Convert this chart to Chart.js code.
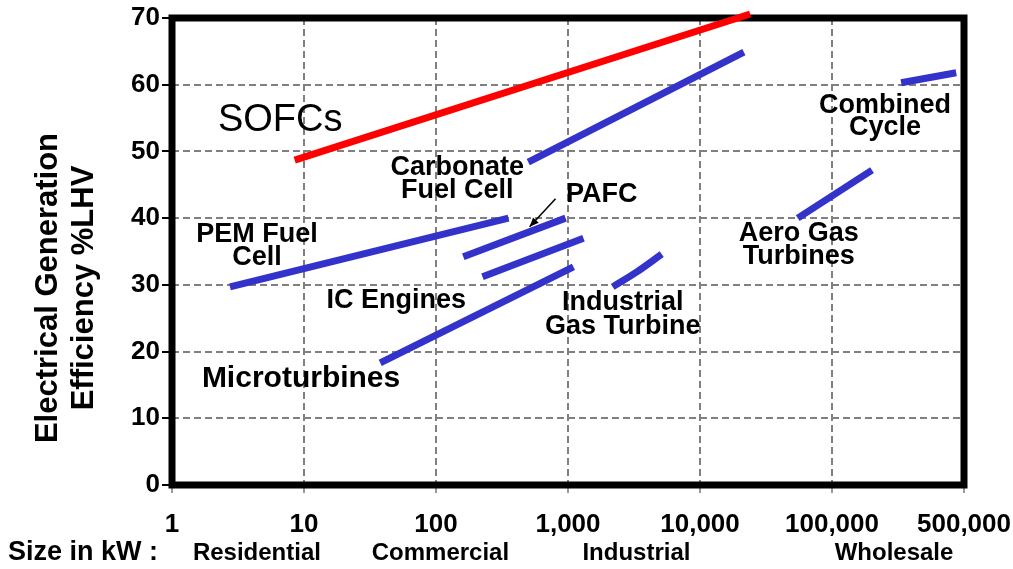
<!DOCTYPE html>
<html>
<head>
<meta charset="utf-8">
<script src="https://cdn.jsdelivr.net/npm/chart.js@4"></script>
<style>
html,body{margin:0;padding:0;background:#fff;}
#wrap{width:1013px;height:569px;}
</style>
</head>
<body>
<div id="wrap"><canvas id="c" width="1013" height="569"></canvas></div>
<script>
// ---- Data (size in kW, efficiency % LHV) ----
const xTickValues = [1, 10, 100, 1000, 10000, 100000, 1000000];
const xTickLabels = ['1', '10', '100', '1,000', '10,000', '100,000', '500,000'];
const sizeClasses = ['Residential', 'Commercial', 'Industrial', 'Wholesale'];

const sofc          = [[8.5, 48.7], [24000, 70.6]];
const carbonateFC   = [[500, 48.4], [21500, 64.9]];
const combinedCycle = [[334000, 60.3], [873000, 61.8]];
const aeroGasTurb   = [[55000, 40.0], [201000, 47.2]];
const pemFC         = [[2.75, 29.7], [354, 40.0]];
const pafc          = [[161, 34.2], [959, 40.0]];
const icEngines     = [[225, 31.2], [1310, 37.0]];
const microturbines = [[37.8, 18.3], [1100, 32.7]];
const industrialGT  = [[2180, 29.7], [3300, 31.9], [5130, 34.6]];

const seriesNames = ['SOFCs', 'Carbonate Fuel Cell', 'Combined Cycle', 'Aero Gas Turbines',
  'PEM Fuel Cell', 'PAFC', 'IC Engines', 'Microturbines', 'Industrial Gas Turbine'];
const seriesData = [sofc, carbonateFC, combinedCycle, aeroGasTurb, pemFC, pafc, icEngines, microturbines, industrialGT];

// ---- Styling / layout ----
const FONT = '"Liberation Sans", Arial, Helvetica, sans-serif';
const BLUE = '#3333CC', RED = '#FF0000';
const seriesColors = [RED, BLUE, BLUE, BLUE, BLUE, BLUE, BLUE, BLUE, BLUE];

// label anchors in data units (kW, %)
const labelDefs = [
  {lines: ['SOFCs'], x: 6.6, y: 54.7, font: 'normal 38px ' + FONT, lh: 40},
  {lines: ['Carbonate', 'Fuel Cell'], x: 145, y: 45.9, font: 'bold 27px ' + FONT, lh: 23},
  {lines: ['PAFC'], x: 1800, y: 43.5, font: 'bold 27px ' + FONT, lh: 23},
  {lines: ['PEM Fuel', 'Cell'], x: 4.4, y: 35.75, font: 'bold 27px ' + FONT, lh: 23},
  {lines: ['IC Engines'], x: 50, y: 27.6, font: 'bold 27px ' + FONT, lh: 23},
  {lines: ['Microturbines'], x: 9.5, y: 16.0, font: 'bold 30px ' + FONT, lh: 26},
  {lines: ['Industrial', 'Gas Turbine'], x: 2600, y: 25.5, font: 'bold 27px ' + FONT, lh: 24},
  {lines: ['Aero Gas', 'Turbines'], x: 56000, y: 35.9, font: 'bold 27px ' + FONT, lh: 23},
  {lines: ['Combined', 'Cycle'], x: 252000, y: 55.2, font: 'bold 27px ' + FONT, lh: 22}
];
const pafcArrow = {from: [805, 42.9], to: [512, 38.7]};
const sizeClassCenters = [4.4, 108, 3300, 295000];

const datasets = seriesData.map((d, i) => ({
  label: seriesNames[i],
  data: d.map(p => ({x: p[0], y: p[1]})),
  borderColor: seriesColors[i],
  backgroundColor: seriesColors[i],
  borderWidth: 7,
  pointRadius: 0,
  pointHoverRadius: 0,
  tension: d.length > 2 ? 0.4 : 0,
  borderCapStyle: 'butt',
  clip: false,
  fill: false
}));

const framePlugin = {
  id: 'frame',
  beforeDatasetsDraw(chart) {
    const {ctx, chartArea: a} = chart;
    ctx.save();
    ctx.lineWidth = 7;
    ctx.strokeStyle = '#000';
    ctx.strokeRect(a.left, a.top, a.right - a.left, a.bottom - a.top);
    ctx.restore();
  }
};

const textPlugin = {
  id: 'texts',
  afterDatasetsDraw(chart) {
    const {ctx, scales: {x, y}} = chart;
    ctx.save();
    ctx.fillStyle = '#000';
    ctx.textAlign = 'center';
    ctx.textBaseline = 'middle';
    labelDefs.forEach(l => {
      const px = x.getPixelForValue(l.x), py = y.getPixelForValue(l.y);
      ctx.font = l.font;
      const y0 = py - (l.lines.length - 1) * l.lh / 2;
      l.lines.forEach((t, k) => ctx.fillText(t, px, y0 + k * l.lh));
    });
    // PAFC arrow
    const ax1 = x.getPixelForValue(pafcArrow.from[0]), ay1 = y.getPixelForValue(pafcArrow.from[1]);
    const ax2 = x.getPixelForValue(pafcArrow.to[0]), ay2 = y.getPixelForValue(pafcArrow.to[1]);
    ctx.strokeStyle = '#000'; ctx.lineWidth = 1.5;
    ctx.beginPath(); ctx.moveTo(ax1, ay1); ctx.lineTo(ax2, ay2); ctx.stroke();
    const ang = Math.atan2(ay2 - ay1, ax2 - ax1), hl = 10;
    ctx.beginPath();
    ctx.moveTo(ax2, ay2);
    ctx.lineTo(ax2 - hl * Math.cos(ang - 0.4), ay2 - hl * Math.sin(ang - 0.4));
    ctx.lineTo(ax2 - hl * Math.cos(ang + 0.4), ay2 - hl * Math.sin(ang + 0.4));
    ctx.closePath(); ctx.fill();

    // y axis title (two lines)
    ctx.save();
    ctx.translate(0, 288);
    ctx.rotate(-Math.PI / 2);
    ctx.font = 'bold 31px ' + FONT;
    ctx.fillText('Electrical Generation', 0, 48);
    ctx.fillText('Efficiency %LHV', 0, 84);
    ctx.restore();

    // bottom row
    ctx.font = 'bold 27px ' + FONT;
    ctx.textAlign = 'left';
    ctx.fillText('Size in kW :', 8, 553);
    ctx.font = 'bold 24px ' + FONT;
    ctx.textAlign = 'center';
    sizeClasses.forEach((s, i) => ctx.fillText(s, x.getPixelForValue(sizeClassCenters[i]), 553));
    ctx.restore();
  }
};

new Chart(document.getElementById('c'), {
  type: 'line',
  data: {datasets},
  options: {
    responsive: false,
    animation: false,
    events: [],
    layout: {padding: {left: 0, top: 18, right: 0, bottom: 0}},
    plugins: {legend: {display: false}, tooltip: {enabled: false}, title: {display: false}},
    scales: {
      x: {
        type: 'logarithmic',
        min: 1, max: 1000000,
        afterBuildTicks(s) { s.ticks = xTickValues.map(v => ({value: v})); },
        afterFit(s) { s.height = 84; s.paddingRight = 49; s.paddingLeft = 0; },
        border: {display: false, dash: [7, 4]},
        grid: {color: '#808080', lineWidth: 2, tickColor: '#999', tickLength: 8, tickBorderDash: []},
        ticks: {
          autoSkip: false, maxRotation: 0, padding: 16, color: '#000',
          font: {family: FONT, size: 26, weight: 'bold'},
          callback(v) { const i = xTickValues.indexOf(v); return i >= 0 ? xTickLabels[i] : ''; }
        }
      },
      y: {
        min: 0, max: 70,
        afterFit(s) { s.width = 172; s.paddingTop = 0; s.paddingBottom = 0; },
        border: {display: false, dash: [7, 4]},
        grid: {color: '#808080', lineWidth: 2, tickColor: '#000', tickLength: 10, tickBorderDash: []},
        ticks: {stepSize: 10, padding: 2, color: '#000', font: {family: FONT, size: 26, weight: 'bold'}}
      }
    }
  },
  plugins: [framePlugin, textPlugin]
});
</script>
</body>
</html>
